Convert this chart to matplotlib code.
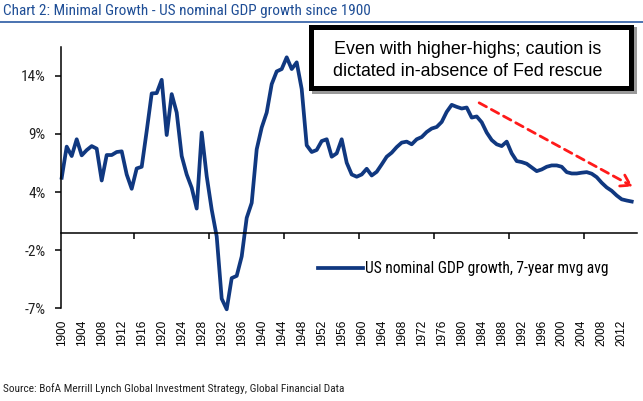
import matplotlib
matplotlib.use("Agg")
import matplotlib.pyplot as plt
from matplotlib.lines import Line2D
from matplotlib.patches import Rectangle
from matplotlib.ticker import FuncFormatter

# US nominal GDP growth, 7-year moving average (%)
years = list(range(1900, 2015))
gdp_growth = [
    4.92, 7.70, 6.86, 8.36, 6.92, 7.39, 7.75, 7.52, 4.67, 6.95,   # 1900s
    6.95, 7.22, 7.28, 5.21, 3.93, 5.75, 5.90, 9.10, 12.46, 12.49,  # 1910s
    13.68, 8.74, 12.40, 10.75, 6.86, 5.21, 4.02, 2.16, 8.96, 5.06,  # 1920s
    2.07, -0.33, -5.90, -6.85, -4.06, -3.86, -2.12, 1.33, 2.67, 7.46,  # 1930s
    9.41, 10.75, 13.29, 14.43, 14.64, 15.69, 14.64, 15.24, 12.85, 7.82,  # 1940s
    7.22, 7.40, 8.20, 8.36, 6.80, 7.10, 8.36, 6.26, 5.21, 5.01,  # 1950s
    5.21, 5.72, 5.12, 5.45, 6.11, 6.80, 7.16, 7.66, 8.06, 8.15,  # 1960s
    7.91, 8.36, 8.56, 9.01, 9.32, 9.46, 9.91, 10.81, 11.44, 11.26,  # 1970s
    11.11, 11.20, 10.30, 10.40, 9.88, 8.96, 8.29, 7.91, 7.75, 8.15,  # 1980s
    7.10, 6.41, 6.32, 6.17, 5.84, 5.51, 5.66, 5.90, 6.02, 6.02,  # 1990s
    5.90, 5.42, 5.30, 5.30, 5.37, 5.42, 5.28, 4.97, 4.47, 4.05,  # 2000s
    3.75, 3.33, 2.99, 2.88, 2.79,  # 2010s
]
year_labels = list(range(1900, 2013, 4))
# excel-style axis: unrounded tick values shown as whole percents
y_ticks = [-6.76, -1.56, 3.64, 8.84, 14.04]
x_tick_marks = [1914.5, 1929.5, 1944.5, 1959.5, 1974.5, 1989.5, 2004.5]

series_label = "US nominal GDP growth, 7-year mvg avg"
title = "Chart 2: Minimal Growth - US nominal GDP growth since 1900"
callout = "Even with higher-highs; caution is\ndictated in-absence of Fed rescue"
source = "Source: BofA Merrill Lynch Global Investment Strategy, Global Financial Data"

NAVY = "#103880"
TITLE_BLUE = "#1f4e96"
NARROW = ["Roboto Condensed", "Liberation Sans", "DejaVu Sans"]
SANS = ["Liberation Sans", "DejaVu Sans"]

W, H = 643, 401
fig = plt.figure(figsize=(W / 100, H / 100), dpi=100)


def fx(px):
    return px / W


def fy(py):
    return 1 - py / H


ax = fig.add_axes([fx(60.7), fy(308.3), fx(636.7 - 60.7), (308.3 - 46.7) / H])
ax.plot(years, gdp_growth, color=NAVY, linewidth=2.7,
        solid_joinstyle="round", clip_on=False, label=series_label)

ax.set_xlim(1899.8, 2015.0)
ax.set_ylim(-6.76, 16.64)

for side in ("top", "right"):
    ax.spines[side].set_visible(False)
ax.spines["left"].set_linewidth(1.1)
ax.spines["bottom"].set_linewidth(1.1)
ax.spines["bottom"].set_position(("data", 0))

ax.set_yticks(y_ticks)
ax.yaxis.set_major_formatter(FuncFormatter(lambda v, _: f"{v:.0f}%"))
ax.tick_params(axis="y", direction="out", length=4, width=1.1, pad=7,
               labelsize=11, labelcolor="#222222")
for lbl in ax.get_yticklabels():
    lbl.set_family(NARROW)

ax.set_xticks(x_tick_marks)
ax.tick_params(axis="x", direction="out", length=4, width=1.1, labelbottom=False)

# year labels sit below the plot, not on the zero line
sec = ax.secondary_xaxis("bottom")
sec.spines["bottom"].set_visible(False)
sec.set_xticks(year_labels)
sec.set_xticklabels([str(y) for y in year_labels], rotation=90,
                    fontsize=8.5, family=SANS)
sec.tick_params(length=0, pad=8.5)

# red dashed trend arrow
ax.annotate("", xy=(2014.66, 4.02), xytext=(1983.0, 11.74),
            arrowprops=dict(arrowstyle="->,head_length=0.7,head_width=0.45",
                            color="#ff1a1a", lw=2.0, linestyle=(0, (3, 2))),
            annotation_clip=False)

ax.legend(handles=[Line2D([], [], color=NAVY, linewidth=2.7)],
          labels=[series_label], loc="center left",
          bbox_to_anchor=(fx(318), fy(269)), bbox_transform=fig.transFigure,
          frameon=False, handlelength=2.9, handletextpad=0.1,
          borderpad=0, borderaxespad=0,
          prop={"family": NARROW, "size": 11.2})

# title and rule
fig.text(fx(3), fy(11), title, color=TITLE_BLUE, fontsize=11,
         family=NARROW, va="center", ha="left")
fig.add_artist(Line2D([0, 1], [fy(22), fy(22)], color="#4a72b0",
                      linewidth=1.4, transform=fig.transFigure))

# callout box with drop shadow
bx0, by0, bx1, by1 = 310.8, 26.5, 630.8, 88.2
fig.add_artist(Rectangle((fx(bx0 + 3), fy(by1 + 3)), fx(bx1 - bx0), (by1 - by0) / H,
                         transform=fig.transFigure, facecolor="#9a9a9a",
                         edgecolor="#9a9a9a", linewidth=3.6, zorder=4))
fig.add_artist(Rectangle((fx(bx0), fy(by1)), fx(bx1 - bx0), (by1 - by0) / H,
                         transform=fig.transFigure, facecolor="white",
                         edgecolor="black", linewidth=3.6, zorder=5))
fig.text(fx(467.5), fy(60.5), callout, fontsize=12.9, family=SANS,
         ha="center", va="center", linespacing=1.35, zorder=6)

fig.text(fx(3), fy(389), source, fontsize=8.2, family=NARROW,
         va="center", ha="left", color="#222222")

fig.savefig("out.png", dpi=100)
